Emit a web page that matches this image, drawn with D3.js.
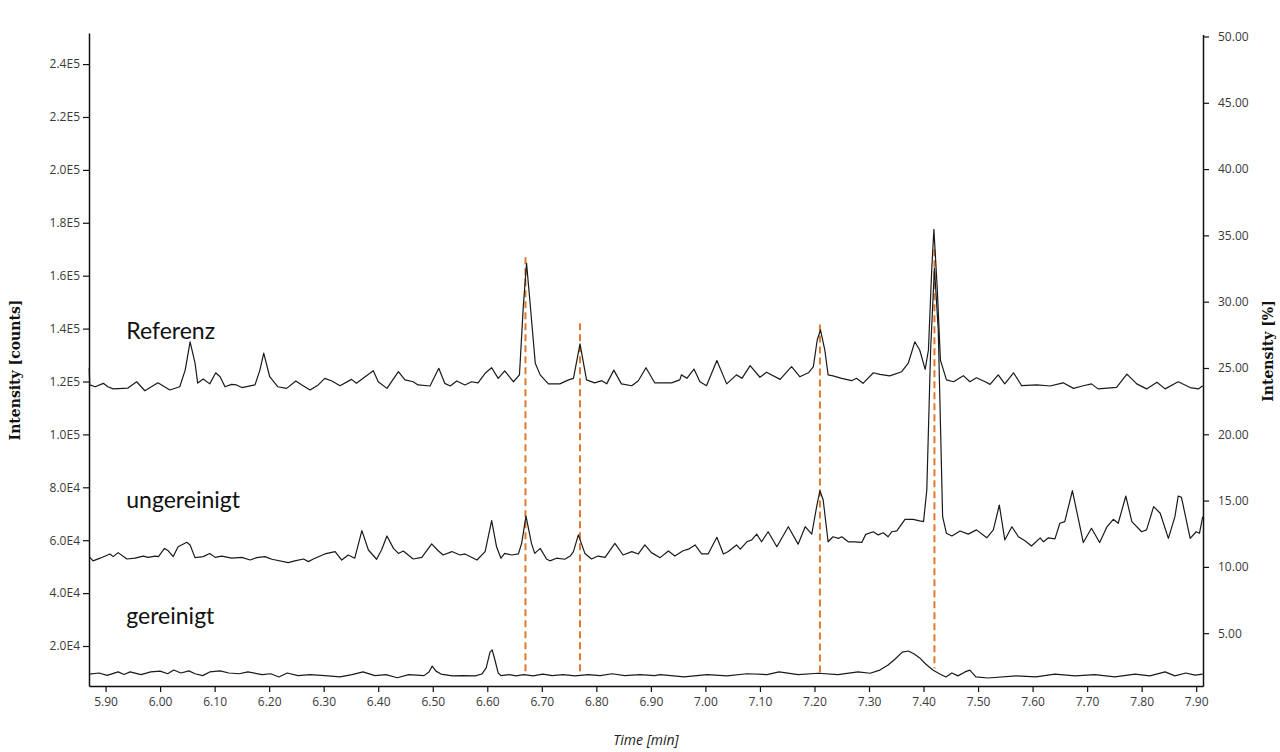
<!DOCTYPE html>
<html><head><meta charset="utf-8">
<script src="https://cdn.jsdelivr.net/npm/d3@7"></script>
<style>
html,body{margin:0;padding:0;background:#fff;}
svg{display:block;}
.tick text{font-family:"Open Sans",sans-serif;font-size:12px;fill:#3a3a3a;}
</style></head><body>
<svg id="c" width="1280" height="752"></svg>
<script>
// ---- data (time in min, intensity in counts) ----
const refTime = [5.870,5.871,5.881,5.896,5.904,5.914,5.941,5.957,5.972,5.996,6.018,6.036,6.046,6.055,6.064,6.069,6.079,6.091,6.102,6.110,6.119,6.131,6.140,6.150,6.174,6.183,6.190,6.201,6.216,6.232,6.249,6.260,6.275,6.290,6.302,6.315,6.330,6.351,6.360,6.376,6.391,6.400,6.416,6.437,6.449,6.464,6.473,6.495,6.511,6.522,6.532,6.544,6.559,6.571,6.583,6.596,6.608,6.620,6.632,6.648,6.659,6.666,6.672,6.678,6.688,6.697,6.712,6.733,6.749,6.758,6.770,6.782,6.797,6.810,6.819,6.832,6.846,6.865,6.877,6.891,6.907,6.938,6.953,6.956,6.966,6.979,6.990,7.002,7.021,7.039,7.057,7.067,7.082,7.100,7.112,7.137,7.158,7.173,7.189,7.198,7.205,7.211,7.219,7.225,7.234,7.250,7.268,7.277,7.289,7.308,7.320,7.338,7.360,7.372,7.384,7.393,7.403,7.409,7.415,7.419,7.425,7.431,7.442,7.455,7.473,7.485,7.497,7.513,7.522,7.537,7.549,7.565,7.580,7.608,7.632,7.656,7.675,7.693,7.708,7.720,7.754,7.773,7.791,7.809,7.828,7.843,7.867,7.889,7.904,7.912];
const refValue = [125100,118700,118000,119300,118000,117200,117500,119900,116500,119500,116800,118000,124300,135000,127000,119400,120900,119100,123300,121800,118000,118900,118700,117700,118700,124300,130700,121800,118000,117400,120200,118700,116800,118700,121200,120200,118400,120800,119300,121800,124100,119900,117400,123700,120600,119900,118700,118300,125000,119300,118300,120200,118700,119900,119500,123100,125200,121200,124000,119900,122500,148300,164700,150800,126900,122500,119100,119100,120600,121200,134200,120600,119500,120300,119100,124300,119100,118400,120300,125200,119500,119500,120600,122500,121200,124700,119900,118400,127900,119100,122500,121200,126000,121600,123500,120800,125600,121800,123300,125600,135700,139500,131900,122500,122100,121200,120300,121200,119300,123300,122700,122100,123700,126900,135000,131900,124600,131900,162200,177500,155800,128100,120600,119900,122200,119900,121400,119900,118900,122500,119100,123300,118400,118700,118300,119500,117400,118400,119100,117200,117800,122800,119100,117200,119700,117200,119900,117700,117200,118400];

const rawTime = [5.870,5.877,5.890,5.908,5.914,5.923,5.939,5.954,5.969,5.978,5.991,5.997,6.008,6.015,6.024,6.033,6.049,6.055,6.064,6.079,6.091,6.101,6.113,6.131,6.150,6.165,6.177,6.192,6.205,6.235,6.247,6.263,6.272,6.281,6.302,6.321,6.333,6.345,6.357,6.370,6.382,6.397,6.406,6.416,6.428,6.437,6.446,6.464,6.480,6.498,6.510,6.519,6.535,6.550,6.559,6.581,6.596,6.608,6.617,6.625,6.632,6.645,6.657,6.663,6.671,6.681,6.687,6.697,6.709,6.715,6.727,6.742,6.752,6.758,6.767,6.779,6.791,6.803,6.816,6.834,6.849,6.865,6.877,6.889,6.901,6.917,6.932,6.944,6.959,6.969,6.981,6.993,7.005,7.021,7.033,7.042,7.057,7.064,7.076,7.085,7.094,7.103,7.115,7.131,7.152,7.170,7.183,7.195,7.204,7.210,7.216,7.225,7.234,7.244,7.250,7.262,7.274,7.287,7.294,7.308,7.317,7.326,7.335,7.342,7.351,7.366,7.381,7.393,7.400,7.406,7.413,7.420,7.427,7.435,7.442,7.452,7.467,7.482,7.497,7.516,7.528,7.539,7.549,7.562,7.574,7.586,7.598,7.614,7.620,7.629,7.641,7.650,7.659,7.673,7.683,7.693,7.708,7.723,7.736,7.748,7.757,7.771,7.782,7.800,7.809,7.822,7.834,7.849,7.861,7.867,7.873,7.889,7.900,7.906,7.912];
const rawValue = [53800,52200,53200,54800,53800,55300,52900,53200,54000,53500,54000,53800,56900,56000,53800,57500,59200,58200,53400,53800,55000,53500,54000,53200,53500,52500,53400,53800,52800,51500,52200,52900,51900,52900,54800,55700,52500,54400,53200,63600,56300,52800,56300,61600,56900,55000,55900,52900,53500,58600,56000,54400,55700,54400,54800,52500,55700,67400,57500,53200,55000,54400,54800,58800,69100,58800,55000,56900,52800,52200,53200,52800,54000,55700,62000,55000,52900,54000,53500,58800,54400,55700,54800,58200,55300,53400,55900,54000,56000,56600,58200,54800,54800,61100,54800,55700,58200,56600,59400,60100,62300,59400,63200,57500,65100,58500,65100,62300,72700,78700,75200,59400,61300,60700,61300,59400,59400,59200,62200,63200,62000,62800,61300,63200,63500,67900,67900,67300,67000,79000,131900,162900,139500,68900,62600,61600,63500,62300,63900,60900,63900,73300,60100,65100,61300,59800,57800,60900,59400,60900,60500,66400,67000,78700,68900,59100,64500,59100,64900,67900,66400,76700,67000,63200,63900,72700,70200,60700,68900,76700,76200,60700,63200,62600,68900];

const cleanTime = [5.870,5.888,5.903,5.923,5.934,5.945,5.965,5.983,6.000,6.014,6.025,6.038,6.053,6.064,6.078,6.091,6.110,6.126,6.145,6.161,6.187,6.203,6.218,6.233,6.253,6.275,6.302,6.330,6.352,6.372,6.394,6.414,6.435,6.456,6.484,6.493,6.499,6.506,6.515,6.536,6.554,6.578,6.590,6.598,6.605,6.609,6.614,6.620,6.625,6.640,6.653,6.667,6.684,6.702,6.719,6.739,6.761,6.785,6.807,6.829,6.852,6.880,6.907,6.917,6.961,7.003,7.040,7.076,7.113,7.135,7.170,7.207,7.243,7.280,7.302,7.320,7.335,7.348,7.361,7.372,7.383,7.393,7.404,7.417,7.430,7.441,7.452,7.463,7.476,7.485,7.496,7.518,7.570,7.606,7.641,7.678,7.714,7.751,7.788,7.815,7.843,7.861,7.881,7.898,7.912];
const cleanValue = [9400,9800,8900,10200,9200,10200,9200,10200,10500,9500,10900,9800,10600,9500,8800,10200,10600,9800,9500,10200,9200,9500,8300,9800,8800,9200,8800,8300,9200,10200,8800,9200,8000,9200,8800,10200,12400,10500,9400,8700,8800,8700,9400,11700,17700,18500,14700,9800,8800,9200,8700,9200,8700,9400,8800,9200,8700,9200,8800,9500,8800,9200,8800,9200,8300,9200,8700,9500,9200,10200,9200,9700,9200,10200,9700,10900,12800,15100,17700,18100,17000,15500,13200,10900,9400,8300,9800,8700,10200,10900,8300,7900,8700,8300,9400,8700,9200,8300,9400,8700,10200,8700,9800,9000,9400];

const seriesNames = ["Referenz","ungereinigt","gereinigt"];
const seriesLabelValue = [136000, 72300, 28400]; // baseline anchor (counts) of each name label
const labelTime = 5.938;

const markerTime = [6.67, 6.77, 7.21, 7.42];
const markerTop = [167000, 142000, 141500, 170000];
const markerBottom = [10000, 10000, 10000, 11500];

const xTicks = d3.range(0,21).map(i => +(5.9 + i*0.1).toFixed(2));
const yTicks = d3.range(1,13).map(i => i*20000);
const y2Ticks = d3.range(1,11).map(i => i*5);

// ---- layout ----
const svg = d3.select("#c");
const L = 89, R = 1203, T = 33, B = 686;
const x = d3.scaleLinear().domain([5.8696, 7.9125]).range([L, R]);
const y = d3.scaleLinear().domain([4877, 251750]).range([B, T]);
const y2 = d3.scaleLinear().domain([1.016, 50.15]).range([B, T + 1.5]);

function fmtE(v){
  const e = Math.floor(Math.log10(v));
  const m = v / Math.pow(10, e);
  return m.toFixed(1) + "E" + e;
}

// dashed markers (behind traces)
const gm = svg.append("g");
markerTime.forEach((t,i) => {
  gm.append("line")
    .attr("x1", x(t)).attr("x2", x(t))
    .attr("y1", y(markerTop[i])).attr("y2", y(markerBottom[i]))
    .attr("stroke", "#E07A2E").attr("stroke-width", 2)
    .attr("stroke-dasharray", "7,4");
});

// traces
const line = d3.line().x(d => x(d[0])).y(d => y(d[1]));
const series = [
  d3.zip(refTime, refValue),
  d3.zip(rawTime, rawValue),
  d3.zip(cleanTime, cleanValue)
];
series.forEach(s => {
  svg.append("path").datum(s)
    .attr("d", line)
    .attr("fill", "none")
    .attr("stroke", "#1a1a1a")
    .attr("stroke-width", 1.2)
    .attr("stroke-linejoin", "round");
});

// axes
const gx = svg.append("g").attr("transform", `translate(0,${B})`)
  .call(d3.axisBottom(x).tickValues(xTicks).tickFormat(d3.format(".2f")).tickSize(6).tickSizeOuter(0).tickPadding(5));
const gy = svg.append("g").attr("transform", `translate(${L},0)`)
  .call(d3.axisLeft(y).tickValues(yTicks).tickFormat(fmtE).tickSize(6).tickSizeOuter(0).tickPadding(3));
const gy2 = svg.append("g").attr("transform", `translate(${R},0)`)
  .call(d3.axisRight(y2).tickValues(y2Ticks).tickFormat(d3.format(".2f")).tickSize(6).tickSizeOuter(0).tickPadding(9));
[gx, gy, gy2].forEach(g => {
  g.select(".domain").attr("stroke", "#111").attr("stroke-width", 1.5);
  g.selectAll(".tick line").attr("stroke", "#111").attr("stroke-width", 1.2);
});

// axis titles
svg.append("text")
  .attr("transform", `translate(20,370) rotate(-90)`)
  .attr("text-anchor", "middle")
  .style("font-family", "'DejaVu Serif', serif")
  .style("font-weight", "bold").style("font-size", "14px").attr("fill", "#111")
  .text("Intensity [counts]");
svg.append("text")
  .attr("transform", `translate(1273,351) rotate(-90)`)
  .attr("text-anchor", "middle")
  .style("font-family", "'DejaVu Serif', serif")
  .style("font-weight", "bold").style("font-size", "14px").attr("fill", "#111")
  .text("Intensity [%]");
svg.append("text")
  .attr("x", 646).attr("y", 745)
  .attr("text-anchor", "middle")
  .style("font-family", "'Open Sans', sans-serif")
  .style("font-style", "italic").style("font-size", "14px").attr("fill", "#222")
  .text("Time [min]");

// series name labels
seriesNames.forEach((n,i) => {
  svg.append("text")
    .attr("x", x(labelTime)).attr("y", y(seriesLabelValue[i]))
    .style("font-family", "Lato, sans-serif")
    .style("font-size", "23px").attr("fill", "#111")
    .text(n);
});
</script>
</body></html>
